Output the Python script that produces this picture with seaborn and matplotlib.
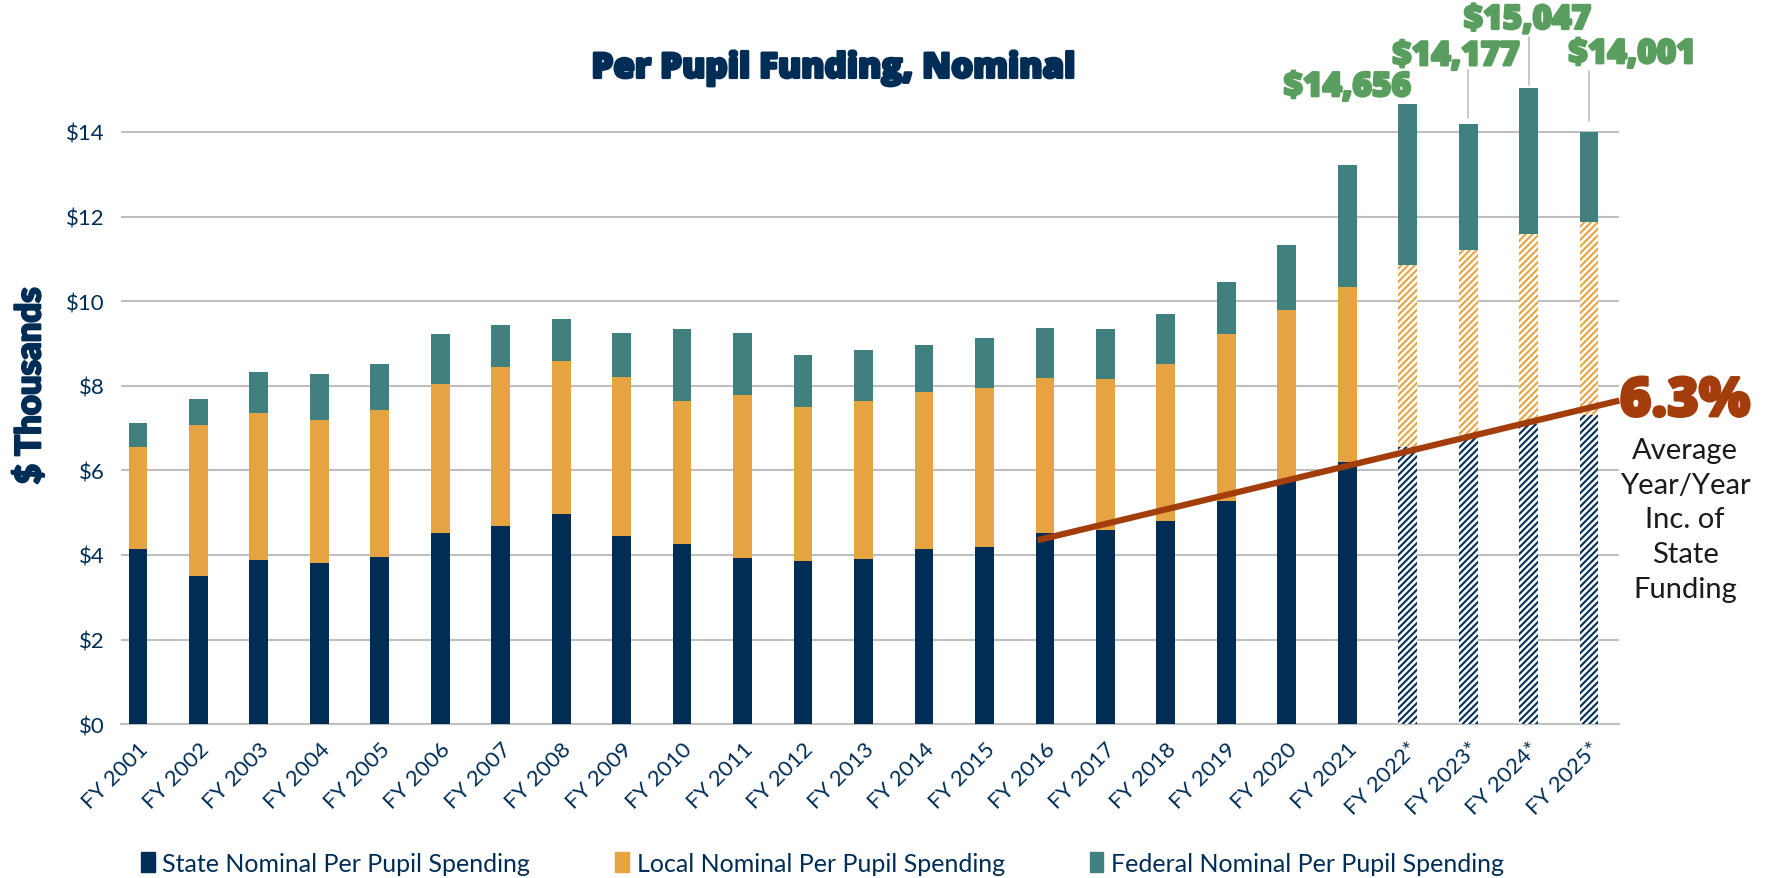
import matplotlib
matplotlib.use('Agg')
import matplotlib.pyplot as plt
import matplotlib.patheffects as pe
import seaborn as sns
import pandas as pd
from matplotlib.patches import Patch

# data (thousands of dollars per pupil)
years = ['FY 2001', 'FY 2002', 'FY 2003', 'FY 2004', 'FY 2005', 'FY 2006', 'FY 2007',
         'FY 2008', 'FY 2009', 'FY 2010', 'FY 2011', 'FY 2012', 'FY 2013', 'FY 2014',
         'FY 2015', 'FY 2016', 'FY 2017', 'FY 2018', 'FY 2019', 'FY 2020', 'FY 2021',
         'FY 2022*', 'FY 2023*', 'FY 2024*', 'FY 2025*']
state = [4.15, 3.50, 3.88, 3.80, 3.95, 4.52, 4.68, 4.98, 4.45, 4.25, 3.92, 3.85, 3.90,
         4.14, 4.18, 4.52, 4.58, 4.80, 5.28, 5.74, 6.20, 6.55, 6.80, 7.10, 7.30]
local = [2.40, 3.58, 3.47, 3.40, 3.47, 3.51, 3.77, 3.60, 3.75, 3.38, 3.85, 3.65, 3.75,
         3.72, 3.76, 3.67, 3.59, 3.71, 3.94, 4.04, 4.14, 4.30, 4.41, 4.49, 4.57]
federal = [0.57, 0.60, 0.98, 1.07, 1.10, 1.19, 0.98, 0.99, 1.05, 1.70, 1.48, 1.22, 1.20,
           1.11, 1.18, 1.18, 1.18, 1.18, 1.24, 1.54, 2.87, 3.806, 2.967, 3.457, 2.131]
forecast = ['FY 2022*', 'FY 2023*', 'FY 2024*', 'FY 2025*']
total_labels = ['$14,656', '$14,177', '$15,047', '$14,001']

navy = '#002D55'
orange = '#E6A341'
teal = '#40807E'
green = '#5A9E5F'
rust = '#A33E0C'

df = pd.DataFrame({'year': years, 'state': state, 'local': local, 'federal': federal})
df['state_local'] = df['state'] + df['local']
df['total'] = df['state_local'] + df['federal']

sns.set_style('white')
plt.rcParams['font.family'] = ['Lato', 'DejaVu Sans']
plt.rcParams['hatch.linewidth'] = 1.5

wide = ['Open Sans', 'DejaVu Sans']


def heavy(c, w=1.6):
    return [pe.withStroke(linewidth=w, foreground=c)]


fig = plt.figure(figsize=(17.69, 8.79), dpi=100)
ax = fig.add_axes([0.0684, 0.175, 0.847, 0.77])

# stacked bars drawn back to front
layers = [('total', teal), ('state_local', orange), ('state', navy)]
for col, c in layers:
    sns.barplot(data=df, x='year', y=col, color=c, width=0.31, saturation=1,
                linewidth=0, ax=ax, zorder=3)

# forecast years: hatched state and local parts
for cont, (col, c) in zip(ax.containers, layers):
    if col == 'total':
        continue
    for patch, yr in zip(cont.patches, years):
        if yr in forecast:
            patch.set_facecolor('white')
            patch.set_edgecolor(c)
            patch.set_hatch('/////')
            patch.set_linewidth(0)

ax.set_ylim(0, 16)
ax.set_xlim(-0.28, 24.5)
ax.set_yticks(range(0, 15, 2))
ax.set_yticklabels([f'${v}' for v in range(0, 15, 2)], fontsize=16, color=navy)
ax.yaxis.grid(True, color='#BFBFBF', linewidth=1.5, zorder=0)
ax.set_axisbelow(True)
for s in ['top', 'right', 'left']:
    ax.spines[s].set_visible(False)
ax.spines['bottom'].set_color('#BFBFBF')
ax.spines['bottom'].set_linewidth(1.5)
ax.tick_params(axis='y', length=0, pad=12)
ax.tick_params(axis='x', length=0, pad=10)
ax.set_xticks(range(len(years)))
ax.set_xticklabels(years, rotation=45, ha='right', rotation_mode='anchor',
                   fontsize=16, color=navy)
ax.set_xlabel('')
ax.set_ylabel('$ Thousands', fontsize=25, fontweight='black', color=navy, labelpad=14,
              path_effects=heavy(navy, 1.6))

# trend line for state funding
ax.plot([14.88, 24.5], [4.35, 7.65], color=rust, linewidth=4.5, zorder=5,
        solid_capstyle='butt', clip_on=False)

# total labels
label_pos = [(20.0, 15.06), (21.8, 15.79), (22.98, 16.65), (24.71, 15.84)]
for (x, y), txt in zip(label_pos, total_labels):
    ax.text(x, y, txt, ha='center', va='center', fontsize=24, fontweight='heavy',
            family=wide, color=green, clip_on=False, path_effects=heavy(green, 1.8))
leaders = [(22, 14.34, 15.47), (23, 15.1, 16.24), (24, 14.26, 15.44)]
for x, y0, y1 in leaders:
    ax.plot([x, x], [y0, y1], color='#BFBFBF', linewidth=1.2, clip_on=False)

fig.text(0.471, 0.921, 'Per Pupil Funding, Nominal', ha='center', va='center',
         fontsize=25, fontweight='heavy', family=wide, color=navy,
         path_effects=heavy(navy, 2))

fig.text(0.9525, 0.542, '6.3%', ha='center', va='center', fontsize=39,
         fontweight='heavy', family=wide, color=rust, path_effects=heavy(rust, 2))
fig.text(0.9525, 0.408, 'Average\nYear/Year\nInc. of\nState\nFunding', ha='center',
         va='center', fontsize=21, color='#1a1a1a', linespacing=1.42)

handles = [Patch(color=navy), Patch(color=orange), Patch(color=teal)]
names = ['State Nominal Per Pupil Spending', 'Local Nominal Per Pupil Spending',
         'Federal Nominal Per Pupil Spending']
fig.legend(handles, names, loc='center', bbox_to_anchor=(0.465, 0.017), ncol=3,
           frameon=False, handlelength=0.55, handleheight=0.85, handletextpad=0.3,
           columnspacing=3.4, prop={'family': ['Lato', 'DejaVu Sans'], 'size': 18},
           labelcolor=navy)

fig.savefig('out.png', dpi=100)
